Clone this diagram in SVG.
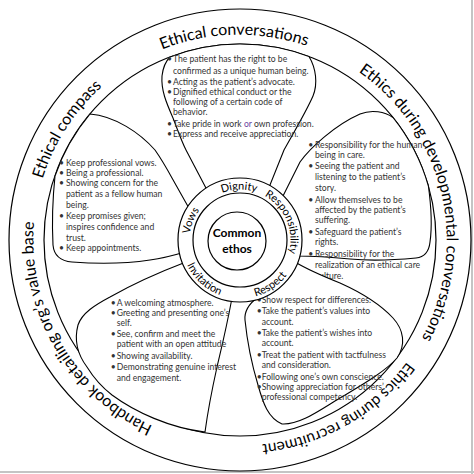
<svg xmlns="http://www.w3.org/2000/svg" width="474" height="474" viewBox="0 0 474 474">
<style>
.ln{fill:none;stroke:#000;stroke-width:1.2}
.pt{fill:#fff;stroke:#000;stroke-width:1.1}
.rg{fill:#fff;stroke:#000;stroke-width:1.2}
.t{font-family:Lato,"Liberation Sans",sans-serif;font-size:8.6px;fill:#333}
.or{fill:#6a3fa0}
.band{font-family:Lato,"Liberation Sans",sans-serif;font-size:16px;fill:#000}
.ring{font-family:Lato,"Liberation Sans",sans-serif;font-size:11px;fill:#000}
.core{font-family:Lato,"Liberation Sans",sans-serif;font-size:12px;font-weight:bold;fill:#000}
</style>
<defs>
<path id="bandPath" d="M204.41,441.88 A205,205 0 1 1 275.59,38.12 A205,205 0 1 1 204.41,441.88"/>
<path id="ringCW" d="M240,290.5 A50.5,50.5 0 1 1 240,189.5 A50.5,50.5 0 1 1 240,290.5"/>
<path id="ringCCW" d="M240,181.5 A58.5,58.5 0 1 0 240,298.5 A58.5,58.5 0 1 0 240,181.5"/>
</defs>
<rect width="474" height="474" fill="#fff"/>
<g id="frame">
<line x1="0" y1="472" x2="474" y2="472" stroke="#c4c4c4" stroke-width="2"/>
<line x1="472" y1="0" x2="472" y2="474" stroke="#c4c4c4" stroke-width="2"/>
</g>
<g id="outer-band">
<circle cx="240" cy="240" r="231" class="ln"/>
<circle cx="240" cy="240" r="196" class="ln"/>
<text class="band"><textPath href="#bandPath" startOffset="46.78%" text-anchor="middle">Ethical conversations</textPath></text>
<text class="band"><textPath href="#bandPath" startOffset="68.56%" text-anchor="middle">Ethics during developmental conversations</textPath></text>
<text class="band" style="font-size:15.5px"><textPath href="#bandPath" startOffset="88.9%" text-anchor="middle">Ethics during recruitment</textPath></text>
<text class="band"><textPath href="#bandPath" startOffset="13.9%" text-anchor="middle">Handbook detailing org’s  value base</textPath></text>
<text class="band"><textPath href="#bandPath" startOffset="31.3%" text-anchor="middle">Ethical compass</textPath></text>
</g>
<g id="petal-dignity">
<path class="pt" d="M207,190 L186,150 C181,140 177,128 173,118 C166,102 161,90 162,76 C163,67 166,61 170,57 A196,196 0 0 1 309,56.5 C316,68 318,84 313,96 C306,112 294,132 284,150 L268,190 Z"/>
<text class="t"><tspan x="167" y="62.1">•</tspan><tspan x="173">The patient has the right to be</tspan>
<tspan x="173" y="73.5">confirmed as a unique human being.</tspan>
<tspan x="167" y="84.5">•</tspan><tspan x="173">Acting as the patient’s advocate.</tspan>
<tspan x="167" y="95.1">•</tspan><tspan x="173">Dignified ethical conduct or the</tspan>
<tspan x="173" y="105.1">following of a certain code of</tspan>
<tspan x="173" y="115.1">behavior.</tspan>
<tspan x="167" y="126.8">•</tspan><tspan x="173">Take pride in work <tspan class="or">or</tspan> own profession.</tspan>
<tspan x="167" y="137.1">•</tspan><tspan x="173">Express and receive appreciation.</tspan></text>
</g>
<g id="petal-responsibility">
<path class="pt" d="M282,198 L300,162 C310,148 335,125 360,114 C372,109 385,112 393,117.5 A196,196 0 0 1 428.4,186 C431,205 432,228 430,242 C429,252 425,257 416,258 C395,260 370,261 350,259 C330,257 310,256 297,256 Z"/>
<text class="t"><tspan x="308.3" y="147.8">•</tspan><tspan x="315">Responsibility for the human</tspan>
<tspan x="315" y="157.8">being in care.</tspan>
<tspan x="308.3" y="168.8">•</tspan><tspan x="315">Seeing the patient and</tspan>
<tspan x="315" y="179.5">listening to the patient’s</tspan>
<tspan x="315" y="190.8">story.</tspan>
<tspan x="308.3" y="202.8">•</tspan><tspan x="315">Allow themselves to be</tspan>
<tspan x="315" y="212.8">affected by the patient’s</tspan>
<tspan x="315" y="222.8">suffering.</tspan>
<tspan x="308.3" y="234.5">•</tspan><tspan x="315">Safeguard the patient’s</tspan>
<tspan x="315" y="245.1">rights.</tspan>
<tspan x="308.3" y="256.8">•</tspan><tspan x="315">Responsibility for the</tspan>
<tspan x="315" y="267.8">realization of an ethical care</tspan>
<tspan x="315" y="278.5">culture.</tspan></text>
</g>
<g id="petal-respect">
<path class="pt" d="M258,297 C250,303 244,310 245,320 C247,340 252,365 258,385 C263,403 268,418 282,424 C300,425 320,410 340,398 C360,386 385,372 397,358 C406,345 404,330 393,318 C380,304 360,292 340,283 C320,275 305,268 295,262 Z"/>
<text class="t"><tspan x="256.7" y="302.8">•</tspan><tspan x="261.7">Show respect for differences.</tspan>
<tspan x="256.7" y="313.5">•</tspan><tspan x="261.7">Take the patient’s values into</tspan>
<tspan x="261.7" y="324.5">account.</tspan>
<tspan x="256.7" y="335.5">•</tspan><tspan x="261.7">Take the patient’s wishes into</tspan>
<tspan x="261.7" y="346.1">account.</tspan>
<tspan x="256.7" y="357.8">•</tspan><tspan x="261.7">Treat the patient with tactfulness</tspan>
<tspan x="261.7" y="367.8">and consideration.</tspan>
<tspan x="256.7" y="379.5">•</tspan><tspan x="261.7">Following one’s own conscience.</tspan>
<tspan x="256.7" y="390.1">•</tspan><tspan x="261.7">Showing appreciation for others’</tspan>
<tspan x="261.7" y="400.1">professional competency.</tspan></text>
</g>
<g id="petal-invitation">
<path class="pt" d="M186,262 C165,270 140,280 110,297 C95,305 82,313 78,325 C74,340 78,355 87,367 C95,380 103,388 112,395 C135,412 170,428 205,432 C208,410 213,385 217,367 C221,350 226,330 232,298 Z"/>
<text class="t"><tspan x="110.7" y="305.5">•</tspan><tspan x="116.7">A welcoming atmosphere.</tspan>
<tspan x="110.7" y="316.1">•</tspan><tspan x="116.7">Greeting and presenting one’s</tspan>
<tspan x="116.7" y="325.5">self.</tspan>
<tspan x="110.7" y="336.8">•</tspan><tspan x="116.7">See, confirm and meet the</tspan>
<tspan x="116.7" y="346.8">patient with an open attitude</tspan>
<tspan x="110.7" y="358.8">•</tspan><tspan x="116.7">Showing availability.</tspan>
<tspan x="110.7" y="369.5">•</tspan><tspan x="116.7">Demonstrating genuine interest</tspan>
<tspan x="116.7" y="380.8">and engagement.</tspan></text>
</g>
<g id="petal-vows">
<path class="pt" d="M190,210 L172,178 C166,167 162,160 155,150 C140,133 115,116 90,114 A196,196 0 0 0 55,176 C53,195 52,225 53,245 C54,256 60,261 72,262 C100,264 130,263 150,260 C165,258 175,255 185,252 Z"/>
<text class="t"><tspan x="59" y="165.8">•</tspan><tspan x="66">Keep professional vows.</tspan>
<tspan x="59" y="175.8">•</tspan><tspan x="66">Being a professional.</tspan>
<tspan x="59" y="185.8">•</tspan><tspan x="66">Showing concern for the</tspan>
<tspan x="66" y="196.8">patient as a fellow human</tspan>
<tspan x="66" y="207.8">being.</tspan>
<tspan x="59" y="218.8">•</tspan><tspan x="66">Keep promises given;</tspan>
<tspan x="66" y="229.8">inspires confidence and</tspan>
<tspan x="66" y="240.8">trust.</tspan>
<tspan x="59" y="250.8">•</tspan><tspan x="66">Keep appointments.</tspan></text>
</g>
<g id="ring">
<circle cx="240" cy="240" r="62" class="rg"/>
<circle cx="240" cy="240" r="47" class="rg"/>
<text class="ring"><textPath href="#ringCW" startOffset="49.7%" text-anchor="middle">Dignity</textPath></text>
<text class="ring"><textPath href="#ringCW" startOffset="68.6%" text-anchor="middle">Responsibility</textPath></text>
<text class="ring"><textPath href="#ringCW" startOffset="31%" text-anchor="middle">Vows</textPath></text>
<text class="ring"><textPath href="#ringCCW" startOffset="38.2%" text-anchor="middle">Invitation</textPath></text>
<text class="ring"><textPath href="#ringCCW" startOffset="59.5%" text-anchor="middle">Respect</textPath></text>
</g>
<g id="core">
<circle cx="237" cy="241" r="29" class="rg"/>
<text class="core" x="237" y="237" text-anchor="middle">Common</text>
<text class="core" x="237" y="253" text-anchor="middle">ethos</text>
</g>
</svg>
